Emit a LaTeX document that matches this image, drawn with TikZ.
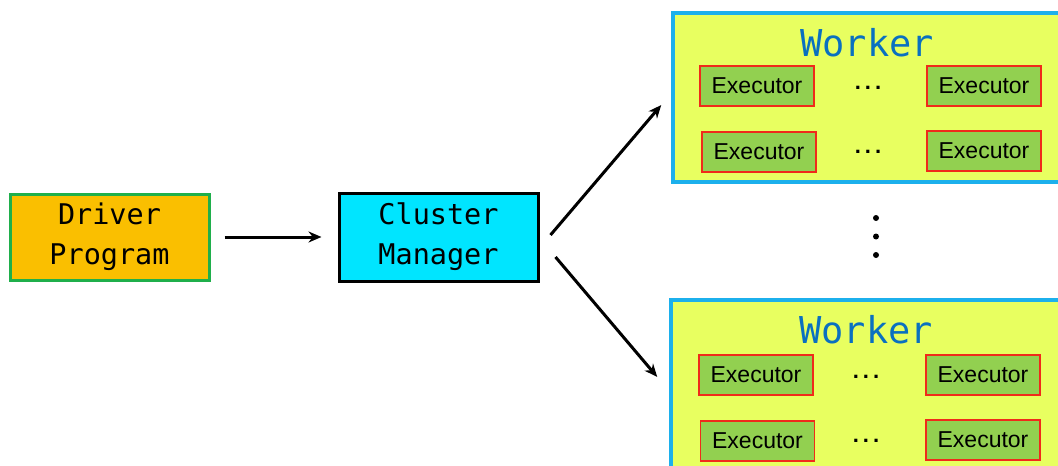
\documentclass[tikz,border=0pt]{standalone}
\usepackage{fontspec}
\setmainfont{Liberation Sans}
\newfontfamily\codefont{DejaVu Sans Mono}
\usetikzlibrary{arrows.meta}
\definecolor{driverfill}{HTML}{FABF00}
\definecolor{driverline}{HTML}{1FAF4B}
\definecolor{cmfill}{HTML}{00E5FF}
\definecolor{workerfill}{HTML}{E8FF60}
\definecolor{workerline}{HTML}{1CB0EC}
\definecolor{workertext}{HTML}{0A70C0}
\definecolor{execfill}{HTML}{92D050}
\definecolor{execline}{HTML}{F02A1A}
\tikzset{
  mainbox/.style={draw, line width=3pt, minimum width=199pt, inner sep=0pt,
    align=center, font=\codefont\fontsize{28.5}{40}\selectfont},
  workerbox/.style={draw=workerline, fill=workerfill, line width=3.5pt,
    minimum width=400pt, inner sep=0pt},
  execbox/.style={draw=execline, fill=execfill, line width=1.2pt,
    minimum width=114pt, minimum height=40pt, inner sep=0pt,
    font=\fontsize{23}{25}\selectfont},
  title/.style={text=workertext, font=\codefont\fontsize{37}{39}\selectfont, inner sep=0pt},
  hdots/.style={font=\bfseries\fontsize{22}{24}\selectfont, inner sep=0pt},
  link/.style={line width=3pt, -{Stealth[length=13pt,width=11pt]}},
}
\newcommand\threedots{.\kern4pt.\kern4pt.}
\begin{document}
\begin{tikzpicture}[x=1pt,y=-1pt]
\useasboundingbox (0,0) rectangle (1058,466);
\clip (0,0) rectangle (1058,466);
\fill[white] (0,0) rectangle (1058,466);

\node[mainbox, draw=driverline, fill=driverfill, minimum height=86pt] (drv) at (109.5,237) {Driver\\Program};
\node[mainbox, draw=black, fill=cmfill, minimum height=88pt] (cm) at (438.5,237) {Cluster\\Manager};

% first worker
\node[workerbox, minimum height=169pt] (w1) at (873,97.5) {};
\node[title] (w1t) at (867,43) {Worker};
\node[execbox] (e11) at (757,86) {Executor};
\node[execbox] (e12) at (984,86) {Executor};
\node[execbox] (e13) at (759,152) {Executor};
\node[execbox] (e14) at (984,151) {Executor};
\node[hdots] (d11) at (868,88) {\threedots};
\node[hdots] (d12) at (868,152) {\threedots};

% second worker
\node[workerbox, minimum height=180pt] (w2) at (871,390) {};
\node[title] (w2t) at (866,330) {Worker};
\node[execbox] (e21) at (756,375) {Executor};
\node[execbox] (e22) at (983,375) {Executor};
\node[execbox] (e23) at (757.5,441) {Executor};
\node[execbox] (e24) at (983,440) {Executor};
\node[hdots] (d21) at (866,377) {\threedots};
\node[hdots] (d22) at (866,441) {\threedots};

% vertical ellipsis between the workers
\node[circle, fill=black, inner sep=0pt, minimum size=6pt] (v1) at (876,218) {};
\node[circle, fill=black, inner sep=0pt, minimum size=6pt] (v2) at (876,236.5) {};
\node[circle, fill=black, inner sep=0pt, minimum size=6pt] (v3) at (876,255) {};

% connectors
\draw[link, shorten <=14pt, shorten >=16pt] (drv.east) -- (cm.west);
\draw[link] ([xshift=11pt,yshift=2pt]cm.east) -- ([xshift=-10pt,yshift=-7.5pt]w1.west);
\draw[link] ([xshift=16pt,yshift=-20pt]cm.east) -- ([xshift=-12pt,yshift=13pt]w2.west);
\end{tikzpicture}
\end{document}
